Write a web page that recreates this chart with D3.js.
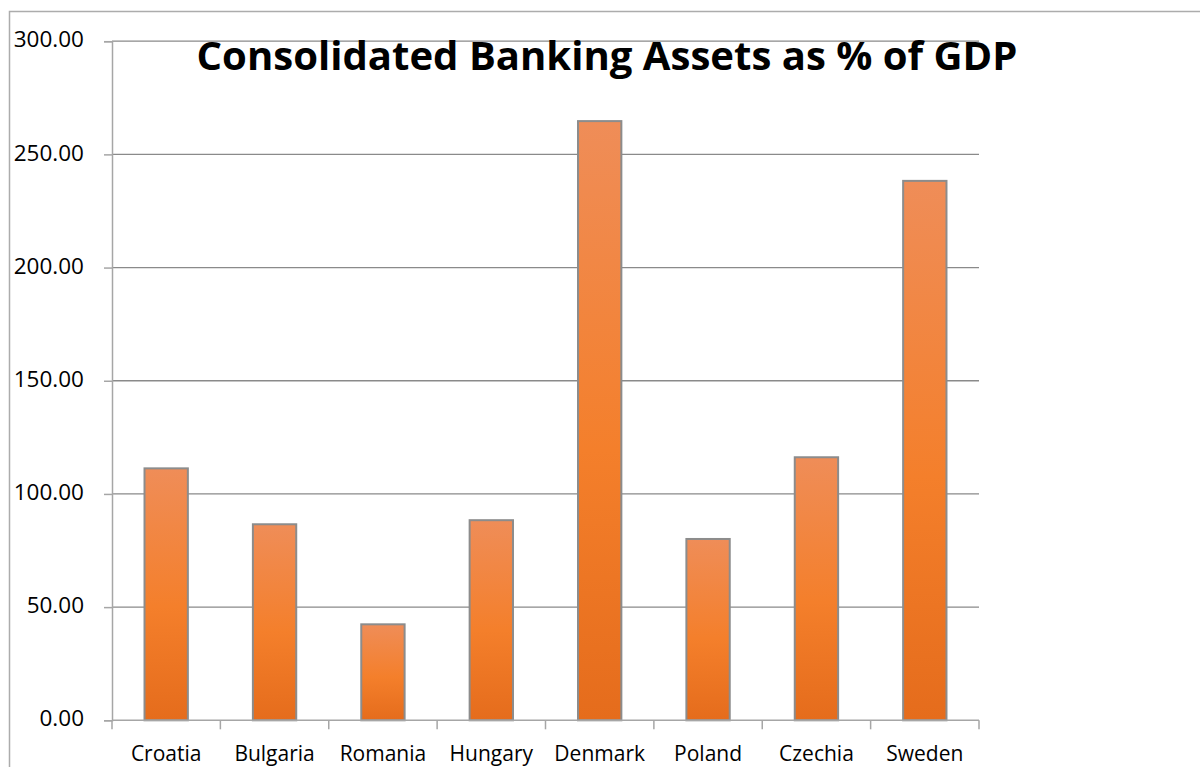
<!DOCTYPE html>
<html>
<head>
<meta charset="utf-8">
<script src="https://cdn.jsdelivr.net/npm/d3@7"></script>
<style>
  html, body { margin: 0; padding: 0; background: #fff; }
  svg { display: block; }
  text { font-family: "Open Sans", "Liberation Sans", sans-serif; fill: #000; }
</style>
</head>
<body>
<svg id="chart" width="1200" height="767"></svg>
<script>
// Consolidated banking assets, % of GDP
const countries = ["Croatia", "Bulgaria", "Romania", "Hungary", "Denmark", "Poland", "Czechia", "Sweden"];
const assetsPctGdp = [111.3, 86.6, 42.4, 88.4, 264.7, 80.1, 116.2, 238.3];
const yTicks = [0, 50, 100, 150, 200, 250, 300];
const chartTitle = "Consolidated Banking Assets as % of GDP";

const svg = d3.select("#chart");
const margin = { left: 112, right: 979, top: 41.2, bottom: 720.3 };

// outer chart frame
svg.append("rect")
  .attr("x", 9.5).attr("y", 11.5)
  .attr("width", 1300).attr("height", 900)
  .attr("fill", "none").attr("stroke", "#acacac").attr("stroke-width", 1.5);

const x = d3.scaleBand()
  .domain(countries)
  .range([margin.left, margin.right])
  .paddingInner(0.6)
  .paddingOuter(0.3);

const xCat = d3.scaleBand().domain(countries).range([margin.left, margin.right]);

const y = d3.scaleLinear().domain([0, 300]).range([margin.bottom, margin.top]);

// gradient fill for bars
const defs = svg.append("defs");
const grad = defs.append("linearGradient")
  .attr("id", "barFill").attr("x1", 0).attr("y1", 0).attr("x2", 0).attr("y2", 1);
grad.append("stop").attr("offset", "0%").attr("stop-color", "#ef8d58");
grad.append("stop").attr("offset", "55%").attr("stop-color", "#f47f2b");
grad.append("stop").attr("offset", "100%").attr("stop-color", "#e56c1c");

// horizontal gridlines
svg.append("g")
  .selectAll("line")
  .data(yTicks.filter(d => d > 0))
  .join("line")
  .attr("x1", margin.left).attr("x2", margin.right)
  .attr("y1", d => y(d)).attr("y2", d => y(d))
  .attr("stroke", "#8a8a8a").attr("stroke-width", 1.3);

// y axis
const yAxis = svg.append("g")
  .attr("transform", `translate(${margin.left},0)`)
  .call(d3.axisLeft(y).tickValues(yTicks).tickSize(8).tickPadding(20).tickFormat(d3.format(".2f")));
yAxis.select(".domain").attr("stroke", "#a6a6a6").attr("stroke-width", 1.5);
yAxis.selectAll(".tick line").attr("stroke", "#a6a6a6").attr("stroke-width", 1.5);
yAxis.selectAll(".tick text")
  .attr("font-size", 22.5).attr("font-family", "'Open Sans', sans-serif").attr("fill", "#000")
  .attr("dy", "0.25em");

// bars
svg.append("g")
  .selectAll("rect")
  .data(countries.map((c, i) => ({ c, v: assetsPctGdp[i] })))
  .join("rect")
  .attr("x", d => x(d.c))
  .attr("width", x.bandwidth())
  .attr("y", d => y(d.v))
  .attr("height", d => y(0) - y(d.v))
  .attr("fill", "url(#barFill)")
  .attr("stroke", "#8c8c8c").attr("stroke-width", 2);

// x axis with boundary ticks between categories
const xAxisG = svg.append("g").attr("transform", `translate(0,${margin.bottom})`);
xAxisG.append("line")
  .attr("x1", margin.left).attr("x2", margin.right)
  .attr("stroke", "#a6a6a6").attr("stroke-width", 1.5);
const bounds = countries.map(c => xCat(c)).concat([margin.right]);
xAxisG.selectAll("line.tick")
  .data(bounds)
  .join("line").attr("class", "tick")
  .attr("x1", d => d).attr("x2", d => d)
  .attr("y1", 0).attr("y2", 9)
  .attr("stroke", "#a6a6a6").attr("stroke-width", 1.5);
xAxisG.selectAll("text")
  .data(countries)
  .join("text")
  .attr("x", d => xCat(d) + xCat.bandwidth() / 2)
  .attr("y", 41)
  .attr("text-anchor", "middle")
  .attr("font-size", 21)
  .text(d => d);

// title
const title = svg.append("text")
  .attr("x", 607).attr("y", 70)
  .attr("text-anchor", "middle")
  .attr("font-weight", 700)
  .attr("font-size", 32)
  .text(chartTitle);
const tw = title.node().getComputedTextLength();
title.attr("font-size", 32 * 821 / tw);
</script>
</body>
</html>
